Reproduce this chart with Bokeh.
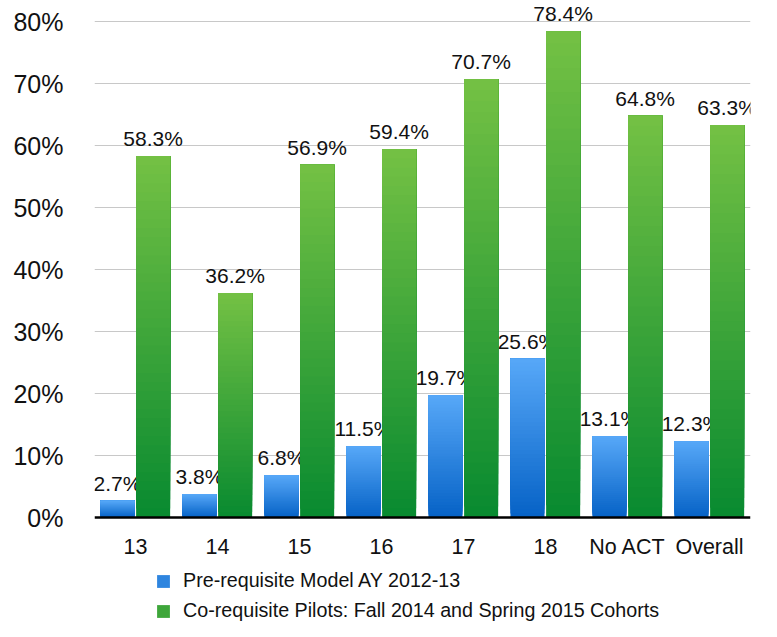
from bokeh.plotting import figure
from bokeh.models import (ColumnDataSource, FactorRange, Range1d, Legend, LegendItem,
                          FixedTicker, CustomJSTickFormatter)
from bokeh.transform import dodge
from bokeh.core.properties import value
from bokeh.embed import file_html
from bokeh.resources import INLINE

categories = ["13", "14", "15", "16", "17", "18", "No ACT", "Overall"]
pre_req = [2.7, 3.8, 6.8, 11.5, 19.7, 25.6, 13.1, 12.3]
co_req = [58.3, 36.2, 56.9, 59.4, 70.7, 78.4, 64.8, 63.3]
series_names = ["Pre-requisite Model AY 2012-13",
                "Co-requisite Pilots: Fall 2014 and Spring 2015 Cohorts"]
y_ticks = [0, 10, 20, 30, 40, 50, 60, 70, 80]

FONT = "Liberation Sans"
BLUE_TOP, BLUE_BOT = (0x57, 0xa8, 0xf8), (0x06, 0x62, 0xc6)
GREEN_TOP, GREEN_BOT = (0x74, 0xc1, 0x44), (0x08, 0x8a, 0x30)
N = 40

H = 621
ZERO_PX = 517      # screen y of 0%
PX_PER = 6.2       # pixels per percentage point
Y_TOP = ZERO_PX / PX_PER
Y_BOT = -(H - ZERO_PX) / PX_PER


def hexc(c):
    return "#%02x%02x%02x" % tuple(int(round(v)) for v in c)


def mix(a, b, t):
    return tuple(a[i] + (b[i] - a[i]) * t for i in range(3))


p = figure(width=761, height=H, x_range=FactorRange(*categories),
           y_range=Range1d(Y_BOT, Y_TOP), output_backend="svg", toolbar_location=None,
           min_border_left=94, min_border_right=11, min_border_top=0, min_border_bottom=0)
p.outline_line_color = None
p.background_fill_color = "white"
p.border_fill_color = "white"

W = 0.415
renderers = []
for vals, off, top_c, bot_c in [(pre_req, -0.22, BLUE_TOP, BLUE_BOT),
                                (co_req, 0.215, GREEN_TOP, GREEN_BOT)]:
    xs, bots, tops, cols = [], [], [], []
    for k in range(N):
        for cat, v in zip(categories, vals):
            xs.append(cat)
            bots.append(v * k / N)
            tops.append(v)
            cols.append(hexc(mix(bot_c, top_c, (k + 0.5) / N)))
    src = ColumnDataSource(dict(x=xs, bottom=bots, top=tops, color=cols))
    p.vbar(x=dodge("x", off, range=p.x_range), bottom="bottom", top="top", width=W,
           source=src, fill_color="color", line_color=None)
    lab = ColumnDataSource(dict(x=categories, y=vals, t=["%.1f%%" % v for v in vals]))
    p.text(x=dodge("x", off, range=p.x_range), y="y", text="t", source=lab,
           text_align="center", text_baseline="bottom", y_offset=-6,
           text_font=value(FONT), text_font_size="21px", text_color="#111111")
    renderers.append(p.vbar(x=[categories[0]], bottom=[-101], top=[-100], width=0.3,
                            fill_color=hexc(mix(bot_c, top_c, 0.5)), line_color=None))

p.xgrid.grid_line_color = None
p.ygrid.grid_line_color = "#c8c8c8"
p.ygrid.grid_line_width = 1.2
p.ygrid.ticker = FixedTicker(ticks=y_ticks[1:])

p.yaxis.ticker = FixedTicker(ticks=y_ticks)
p.yaxis.formatter = CustomJSTickFormatter(code="return tick.toFixed(0) + '%';")
p.yaxis.axis_line_color = None
p.yaxis.major_tick_line_color = None
p.yaxis.minor_tick_line_color = None
p.yaxis.major_label_standoff = 25
p.yaxis.major_label_text_font = FONT
p.yaxis.major_label_text_font_size = "25px"
p.yaxis.major_label_text_color = "#111111"

p.xaxis.fixed_location = 0
p.xaxis.axis_line_color = "black"
p.xaxis.axis_line_width = 2.5
p.xaxis.major_tick_line_color = None
p.xaxis.minor_tick_line_color = None
p.xaxis.major_label_standoff = 11
p.xaxis.major_label_text_font = FONT
p.xaxis.major_label_text_font_size = "21.5px"
p.xaxis.major_label_text_color = "#111111"

legend = Legend(items=[LegendItem(label=series_names[0], renderers=[renderers[0]]),
                       LegendItem(label=series_names[1], renderers=[renderers[1]])],
                location=(61, -1), orientation="vertical", border_line_color=None,
                background_fill_alpha=0, padding=0, margin=0, spacing=7,
                glyph_width=16, glyph_height=16, label_standoff=12,
                label_text_font=FONT, label_text_font_size="19.7px",
                label_text_color="#111111")
p.add_layout(legend, "center")

open("out.html", "w").write(file_html(p, INLINE))
